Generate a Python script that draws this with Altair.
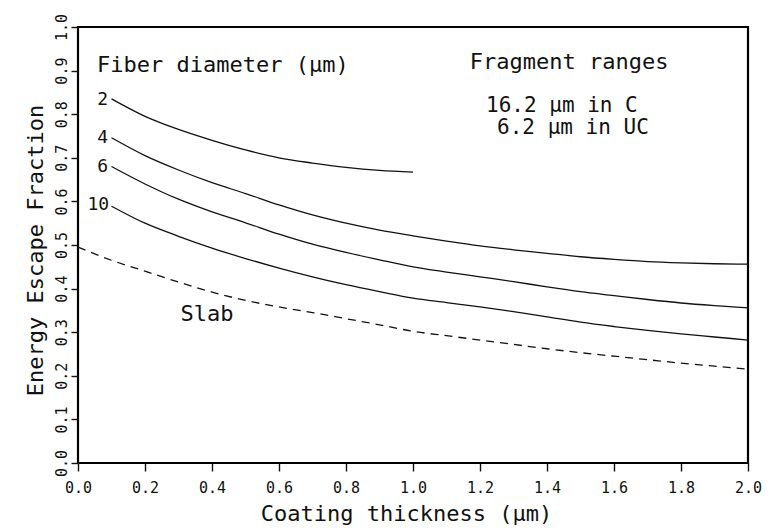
import altair as alt
import pandas as pd

# ---- data ----
x_fiber = [0.1, 0.2, 0.3, 0.4, 0.5, 0.6, 0.7, 0.8, 0.9, 1.0,
           1.1, 1.2, 1.3, 1.4, 1.5, 1.6, 1.7, 1.8, 1.9, 2.0]
d2 = [0.835, 0.795, 0.765, 0.740, 0.718, 0.700, 0.688, 0.678, 0.671, 0.667]
d4 = [0.746, 0.705, 0.672, 0.643, 0.618, 0.592, 0.569, 0.550, 0.534, 0.521,
      0.509, 0.498, 0.489, 0.481, 0.473, 0.467, 0.462, 0.459, 0.457, 0.456]
d6 = [0.680, 0.640, 0.605, 0.576, 0.551, 0.525, 0.502, 0.483, 0.466, 0.450,
      0.438, 0.427, 0.416, 0.404, 0.393, 0.384, 0.375, 0.367, 0.361, 0.356]
d10 = [0.589, 0.550, 0.520, 0.493, 0.469, 0.447, 0.427, 0.409, 0.393, 0.378,
       0.368, 0.358, 0.347, 0.335, 0.323, 0.313, 0.304, 0.296, 0.289, 0.282]
x_slab = [0.0, 0.1, 0.2, 0.3, 0.4, 0.5, 0.6, 0.7, 0.8, 0.9, 1.0,
          1.1, 1.2, 1.3, 1.4, 1.5, 1.6, 1.7, 1.8, 1.9, 2.0]
slab = [0.495, 0.465, 0.440, 0.415, 0.392, 0.373, 0.358, 0.345, 0.331, 0.317, 0.302,
        0.292, 0.282, 0.272, 0.262, 0.253, 0.245, 0.237, 0.229, 0.222, 0.215]

x_ticks = [0.0, 0.2, 0.4, 0.6, 0.8, 1.0, 1.2, 1.4, 1.6, 1.8, 2.0]
y_ticks = [0.0, 0.1, 0.2, 0.3, 0.4, 0.5, 0.6, 0.7, 0.8, 0.9, 1.0]

curve_labels = ["2", "4", "6", "10"]
curve_label_x = [0.090, 0.090, 0.090, 0.093]
curve_label_y = [0.833, 0.745, 0.679, 0.592]

note_texts = ["Fiber diameter (μm)", "Fragment ranges", "Slab"]
note_x = [0.057, 1.466, 0.385]
note_y = [0.913, 0.920, 0.342]
note_align = ["left", "center", "center"]

range_texts = ["16.2 μm in C", "6.2 μm in UC"]
range_x = [1.218, 1.251]
range_y = [0.819, 0.769]

FONT = "DejaVu Sans Mono"
INK = "#111111"

rows = []
for name, ys in [("2", d2), ("4", d4), ("6", d6), ("10", d10)]:
    for xv, yv in zip(x_fiber, ys):
        rows.append({"series": name, "x": xv, "y": yv})
curves = pd.DataFrame(rows)
slab_df = pd.DataFrame({"x": x_slab, "y": slab})
lab_df = pd.DataFrame({"t": curve_labels, "x": curve_label_x, "y": curve_label_y})
note_df = pd.DataFrame({"t": note_texts, "x": note_x, "y": note_y, "a": note_align})
range_df = pd.DataFrame({"t": range_texts, "x": range_x, "y": range_y})

xs = alt.Scale(domain=[0, 2], nice=False, zero=False)
ys_ = alt.Scale(domain=[0, 1], nice=False, zero=False)

x_axis = alt.Axis(values=x_ticks, format=".1f", title="Coating thickness (μm)",
                  tickSize=8, labelPadding=9, labelFontSize=15, labelFlush=False,
                  labelOverlap=False, titleFontSize=22, titleX=328, titleY=50,
                  titleBaseline="middle", titleAlign="center")
y_axis = alt.Axis(values=y_ticks, format=".1f", title="Energy Escape Fraction",
                  tickSize=7, labelPadding=2, labelFontSize=15, labelFlush=False,
                  labelOverlap=False, labelAngle=270, labelAlign="center",
                  labelBaseline="bottom", titleFontSize=22, titleAngle=270,
                  titleX=-43, titleY=223, titleBaseline="middle", titleAlign="center")

X = alt.X("x:Q", scale=xs, axis=x_axis)
Y = alt.Y("y:Q", scale=ys_, axis=y_axis)

solid = alt.Chart(curves).mark_line(color=INK, strokeWidth=1.3, interpolate="monotone").encode(
    x=X, y=Y, detail="series:N")
dashed = alt.Chart(slab_df).mark_line(color=INK, strokeWidth=1.3, strokeDash=[8, 6],
                                      interpolate="monotone").encode(x=X, y=Y)
labels = alt.Chart(lab_df).mark_text(font=FONT, fontSize=18, color=INK, align="right",
                                     baseline="middle").encode(x=X, y=Y, text="t:N")
notes_left = alt.Chart(note_df).transform_filter(alt.datum.a == "left").mark_text(
    font=FONT, fontSize=22, color=INK, baseline="middle", align="left").encode(
    x=X, y=Y, text="t:N")
notes_center = alt.Chart(note_df).transform_filter(alt.datum.a == "center").mark_text(
    font=FONT, fontSize=22, color=INK, baseline="middle", align="center").encode(
    x=X, y=Y, text="t:N")
ranges = alt.Chart(range_df).mark_text(
    font=FONT, fontSize=21, color=INK, baseline="middle", align="left").encode(
    x=X, y=Y, text="t:N")

chart = alt.layer(solid, dashed, labels, notes_left, notes_center, ranges).properties(
    width=670, height=436,
    autosize=alt.AutoSizeParams(type="none"),
    padding={"left": 70, "top": 19, "right": 20, "bottom": 62},
).configure_view(stroke="black", strokeWidth=2.2).configure_axis(
    domain=False, grid=False, tickColor=INK, tickWidth=1.4,
    labelFont=FONT, titleFont=FONT, labelColor=INK, titleColor=INK,
    labelFontSize=15, titleFontSize=22, titleFontWeight="normal",
)

chart.save("out.html", embed_options={"renderer": "svg", "actions": False})
